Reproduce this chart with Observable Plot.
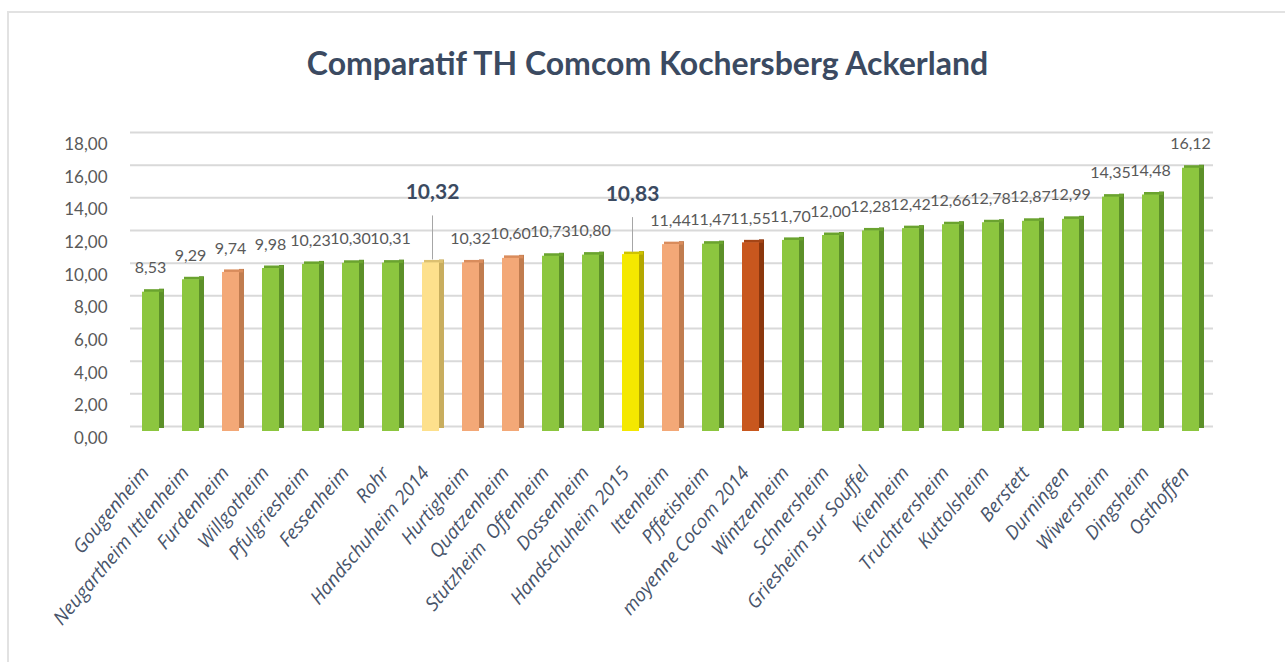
<!DOCTYPE html>
<html><head><meta charset="utf-8">
<script src="https://cdn.jsdelivr.net/npm/d3@7"></script>
<script src="https://cdn.jsdelivr.net/npm/@observablehq/plot@0.6"></script>
<style>
body{margin:0;background:#fff;width:1285px;height:662px;overflow:hidden;position:relative;font-family:Lato,sans-serif}
#frame{position:absolute;left:7px;top:11px;right:-10px;bottom:-10px;border-left:2px solid #e2e2e2;border-top:2px solid #e2e2e2}
#title{position:absolute;left:0;width:1295px;top:43px;text-align:center;font:bold 32px Lato,sans-serif;color:#3b4a61;white-space:nowrap}
#chart{position:absolute;left:0;top:0}
</style></head><body>
<div id="frame"></div>
<div id="chart"></div>
<div id="title">Comparatif TH Comcom Kochersberg Ackerland</div>
<script>
const communes = ["Gougenheim","Neugartheim Ittlenheim","Furdenheim","Willgotheim","Pfulgriesheim","Fessenheim","Rohr","Handschuheim 2014","Hurtigheim","Quatzenheim","Stutzheim  Offenheim","Dossenheim","Handschuheim 2015","Ittenheim","Pffetisheim","moyenne Cocom 2014","Wintzenheim","Schnersheim","Griesheim sur Souffel","Kienheim","Truchtrersheim","Kuttolsheim","Berstett","Durningen","Wiwersheim","Dingsheim","Osthoffen"];
const valeurs = [8.53,9.29,9.74,9.98,10.23,10.30,10.31,10.32,10.32,10.60,10.73,10.80,10.83,11.44,11.47,11.55,11.70,12.00,12.28,12.42,12.66,12.78,12.87,12.99,14.35,14.48,16.12];
const groupes = ["commune","commune","voisine","commune","commune","commune","commune","hand2014","voisine","voisine","commune","commune","hand2015","voisine","commune","moyenne","commune","commune","commune","commune","commune","commune","commune","commune","commune","commune","commune"];
const yTicks = [0,2,4,6,8,10,12,14,16,18];

const front = {commune:"#8cc63f", voisine:"#f3a877", hand2014:"#fde08c", hand2015:"#f4e800", moyenne:"#c8571e"};
const side  = {commune:"#5c9029", voisine:"#c07c4f", hand2014:"#c8ad5e", hand2015:"#b3a800", moyenne:"#8a360d"};
const top_  = {commune:"#6aa32f", voisine:"#d98c5c", hand2014:"#dcc070", hand2015:"#cfc300", moyenne:"#a54516"};

const data = communes.map((name, i) => ({name, value: valeurs[i], group: groupes[i]}));
const fmt = v => v.toFixed(2).replace(".", ",");
const normal = data.filter(d => d.group !== "hand2014" && d.group !== "hand2015");
const h14 = data.filter(d => d.group === "hand2014");
const h15 = data.filter(d => d.group === "hand2015");

const chart = Plot.plot({
  width: 1285, height: 662,
  marginLeft: 130, marginRight: 72, marginTop: 137, marginBottom: 231,
  style: {fontFamily: "Lato, sans-serif", background: "transparent", overflow: "visible"},
  x: {type: "band", domain: communes, padding: 0, axis: null},
  y: {domain: [0, 18], axis: null},
  color: {type: "identity"},
  marks: [
    Plot.gridY(yTicks, {stroke: "#d9d9d9", strokeOpacity: 1, strokeWidth: 2, dy: -5}),
    Plot.axisY(yTicks, {tickSize: 0, tickPadding: 23, tickFormat: fmt, fontSize: 17, fill: "#595959", dy: 7, label: null}),
    Plot.barY(data, {x: "name", y: "value", fill: d => side[d.group], insetLeft: 27, insetRight: 8, dy: -3}),
    Plot.tickY(data, {x: "name", y: "value", stroke: d => top_[d.group], strokeWidth: 3, insetLeft: 12, insetRight: 9, dy: -1.5}),
    Plot.barY(data, {x: "name", y: "value", fill: d => front[d.group], insetLeft: 10, insetRight: 13}),
    Plot.text(normal, {x: "name", y: "value", text: d => fmt(d.value), dy: -24, dx: -2, fill: "#595959", fontSize: 16, lineAnchor: "middle"}),
    Plot.ruleX(h14, {x: "name", y1: "value", y2: "value", insetTop: -3, insetBottom: 47, stroke: "#a6a6a6", strokeWidth: 1}),
    Plot.ruleX(h15, {x: "name", y1: "value", y2: "value", insetTop: -2, insetBottom: 37, stroke: "#a6a6a6", strokeWidth: 1}),
    Plot.text(h14, {x: "name", y: "value", text: d => fmt(d.value), dy: -71, fill: "#3b4a61", fontSize: 21, fontWeight: "bold", lineAnchor: "middle"}),
    Plot.text(h15, {x: "name", y: "value", text: d => fmt(d.value), dy: -60, fill: "#3b4a61", fontSize: 21, fontWeight: "bold", lineAnchor: "middle"}),
    Plot.text(data, {x: "name", frameAnchor: "bottom", text: "name", rotate: -50, textAnchor: "end", lineAnchor: "middle", dx: -7, dy: 38, fontSize: 19, fontStyle: "italic", fontFamily: "Open Sans", fill: "#48546a"})
  ]
});
document.getElementById("chart").appendChild(chart);
</script>
</body></html>
